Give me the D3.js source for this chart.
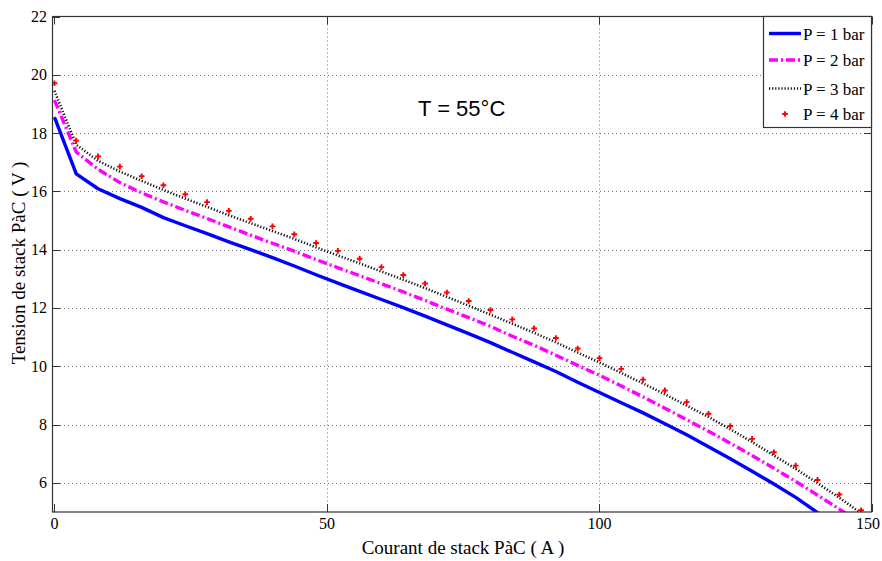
<!DOCTYPE html>
<html>
<head>
<meta charset="utf-8">
<script src="https://cdn.jsdelivr.net/npm/d3@7"></script>
<style>
  html, body { margin: 0; padding: 0; background: #fff; }
  svg { display: block; }
</style>
</head>
<body>
<svg id="chart" width="882" height="561"></svg>
<script>
// Stack current (A), sampled every 4 A
const current = [0, 4, 8, 12, 16, 20, 24, 28, 32, 36, 40, 44, 48, 52, 56, 60, 64, 68, 72,
  76, 80, 84, 88, 92, 96, 100, 104, 108, 112, 116, 120, 124, 128, 132, 136, 140, 144, 148];

// Stack voltage (V) for each pressure
const p1bar = [18.55, 16.60, 16.09, 15.75, 15.45, 15.10, 14.82, 14.55, 14.27, 14.00, 13.73, 13.44,
  13.14, 12.85, 12.57, 12.29, 12.01, 11.72, 11.42, 11.12, 10.81, 10.48, 10.15, 9.82, 9.45, 9.10,
  8.75, 8.40, 8.03, 7.65, 7.24, 6.83, 6.40, 5.96, 5.50, 4.98, 4.48, 3.98];
const p2bar = [19.13, 17.35, 16.76, 16.30, 15.95, 15.64, 15.35, 15.07, 14.78, 14.50, 14.22, 13.95,
  13.66, 13.38, 13.11, 12.83, 12.55, 12.26, 11.96, 11.67, 11.37, 11.03, 10.72, 10.38, 10.03, 9.69,
  9.32, 8.95, 8.56, 8.17, 7.77, 7.36, 6.94, 6.50, 6.05, 5.58, 5.10, 4.60];
const p3bar = [19.45, 17.60, 17.05, 16.68, 16.36, 16.05, 15.75, 15.47, 15.18, 14.91, 14.64, 14.37,
  14.08, 13.80, 13.53, 13.25, 12.97, 12.68, 12.38, 12.08, 11.77, 11.46, 11.15, 10.82, 10.47, 10.13,
  9.77, 9.41, 9.04, 8.65, 8.26, 7.84, 7.40, 6.94, 6.48, 5.99, 5.49, 4.96];
const p4bar = [19.71, 17.74, 17.20, 16.85, 16.52, 16.21, 15.90, 15.63, 15.33, 15.06, 14.80, 14.53,
  14.23, 13.96, 13.69, 13.40, 13.13, 12.84, 12.53, 12.24, 11.93, 11.61, 11.30, 10.97, 10.61, 10.28,
  9.91, 9.54, 9.17, 8.77, 8.37, 7.95, 7.51, 7.05, 6.59, 6.10, 5.60, 5.06];

const seriesNames = ["P = 1 bar", "P = 2 bar", "P = 3 bar", "P = 4 bar"];
const xTicks = [0, 50, 100, 150];
const yTicks = [6, 8, 10, 12, 14, 16, 18, 20, 22];

const svg = d3.select("#chart");
const plotLeft = 52, plotRight = 872, plotTop = 16.5, plotBottom = 512;

const x = d3.scaleLinear().domain([-0.45, 150]).range([plotLeft, plotRight]);
const y = d3.scaleLinear().domain([5, 22]).range([plotBottom, plotTop]);

const serif = "'Liberation Serif', 'Times New Roman', serif";

// plot background
svg.append("rect").attr("x", plotLeft).attr("y", plotTop)
  .attr("width", plotRight - plotLeft).attr("height", plotBottom - plotTop).attr("fill", "#fff");

// dotted grid
const grid = svg.append("g").attr("stroke", "#777").attr("stroke-width", 1)
  .attr("stroke-dasharray", "1,3");
grid.selectAll("line.gx").data(xTicks.filter(d => d > 0 && d < 150)).join("line")
  .attr("class", "gx")
  .attr("x1", d => Math.round(x(d)) + 0.5).attr("x2", d => Math.round(x(d)) + 0.5)
  .attr("y1", plotTop).attr("y2", plotBottom);
grid.selectAll("line.gy").data(yTicks.filter(d => d < 22)).join("line")
  .attr("class", "gy")
  .attr("x1", plotLeft).attr("x2", plotRight)
  .attr("y1", d => Math.round(y(d)) + 0.5).attr("y2", d => Math.round(y(d)) + 0.5);

// clipping region for the curves
svg.append("clipPath").attr("id", "plotClip").append("rect")
  .attr("x", plotLeft).attr("y", plotTop).attr("width", plotRight - plotLeft).attr("height", plotBottom - plotTop);

const plot = svg.append("g").attr("clip-path", "url(#plotClip)");
const lineGen = vals => d3.line().x((d, i) => x(current[i])).y(d => y(d))(vals);

const styles = [
  { stroke: "#0000ff", width: 3.4, dash: null },
  { stroke: "#ff00ff", width: 3.4, dash: "9,3,2,3" },
  { stroke: "#111", width: 2.6, dash: "1.2,1.9" }
];
[p1bar, p2bar, p3bar].forEach((vals, i) => {
  plot.append("path").attr("d", lineGen(vals)).attr("fill", "none")
    .attr("stroke", styles[i].stroke).attr("stroke-width", styles[i].width)
    .attr("stroke-dasharray", styles[i].dash).attr("stroke-linejoin", "round");
});

const cross = d3.symbol().type(d3.symbolCross).size(18);
plot.selectAll("path.pt").data(p4bar).join("path")
  .attr("class", "pt")
  .attr("transform", (d, i) => `translate(${x(current[i])},${y(d)})`)
  .attr("d", cross).attr("fill", "#ff0000");

// axes box with inward ticks on every side
const axisColor = "#333";
svg.append("rect").attr("x", plotLeft + 0.5).attr("y", plotTop).attr("width", plotRight - plotLeft - 1)
  .attr("height", plotBottom - plotTop).attr("fill", "none").attr("stroke", axisColor).attr("stroke-width", 1.2);

const tickLen = 8;
const ticks = svg.append("g").attr("stroke", axisColor).attr("stroke-width", 1);
xTicks.forEach(t => {
  const px = Math.round(x(t)) + 0.5;
  ticks.append("line").attr("x1", px).attr("x2", px).attr("y1", plotBottom).attr("y2", plotBottom - tickLen);
  ticks.append("line").attr("x1", px).attr("x2", px).attr("y1", plotTop).attr("y2", plotTop + tickLen);
});
yTicks.forEach(t => {
  const py = Math.round(y(t)) + 0.5;
  ticks.append("line").attr("x1", plotLeft).attr("x2", plotLeft + tickLen).attr("y1", py).attr("y2", py);
  ticks.append("line").attr("x1", plotRight).attr("x2", plotRight - tickLen).attr("y1", py).attr("y2", py);
});

// tick labels (the last one is kept inside the page)
svg.append("g").selectAll("text").data(xTicks).join("text")
  .attr("x", d => Math.min(x(d), 868)).attr("y", plotBottom + 17)
  .attr("text-anchor", "middle").attr("font-family", serif).attr("font-size", 16)
  .attr("fill", "#000").text(d => d);
svg.append("g").selectAll("text").data(yTicks).join("text")
  .attr("x", plotLeft - 5).attr("y", d => y(d) + 5.5)
  .attr("text-anchor", "end").attr("font-family", serif).attr("font-size", 16)
  .attr("fill", "#000").text(d => d);

// axis titles
svg.append("text").attr("x", 463).attr("y", 554).attr("text-anchor", "middle")
  .attr("font-family", serif).attr("font-size", 19).attr("fill", "#000")
  .text("Courant de stack PàC ( A )");
svg.append("text").attr("transform", "translate(25,263) rotate(-90)").attr("text-anchor", "middle")
  .attr("font-family", serif).attr("font-size", 19).attr("fill", "#000")
  .text("Tension de stack PàC ( V )");

// annotation
svg.append("text").attr("x", 418).attr("y", 116)
  .attr("font-family", "'Liberation Sans', Arial, sans-serif").attr("font-size", 22)
  .attr("fill", "#000").text("T = 55°C");

// legend
const lg = svg.append("g");
const lgLeft = 763, lgTop = plotTop, lgBottom = 127.5;
lg.append("rect").attr("x", lgLeft + 0.5).attr("y", lgTop).attr("width", plotRight - lgLeft - 1)
  .attr("height", lgBottom - lgTop).attr("fill", "#fff").attr("stroke", axisColor).attr("stroke-width", 1.2);
const rowY = [33.5, 60, 88.5, 114];
styles.forEach((s, i) => {
  lg.append("line").attr("x1", 769).attr("x2", 801).attr("y1", rowY[i]).attr("y2", rowY[i])
    .attr("stroke", s.stroke).attr("stroke-width", s.width)
    .attr("stroke-dasharray", s.dash);
});
lg.append("path").attr("transform", `translate(785,${rowY[3]})`).attr("d", cross).attr("fill", "#ff0000");
lg.selectAll("text").data(seriesNames).join("text")
  .attr("x", 803).attr("y", (d, i) => rowY[i] + 6)
  .attr("font-family", serif).attr("font-size", 17).attr("fill", "#000")
  .text(d => d);
</script>
</body>
</html>
